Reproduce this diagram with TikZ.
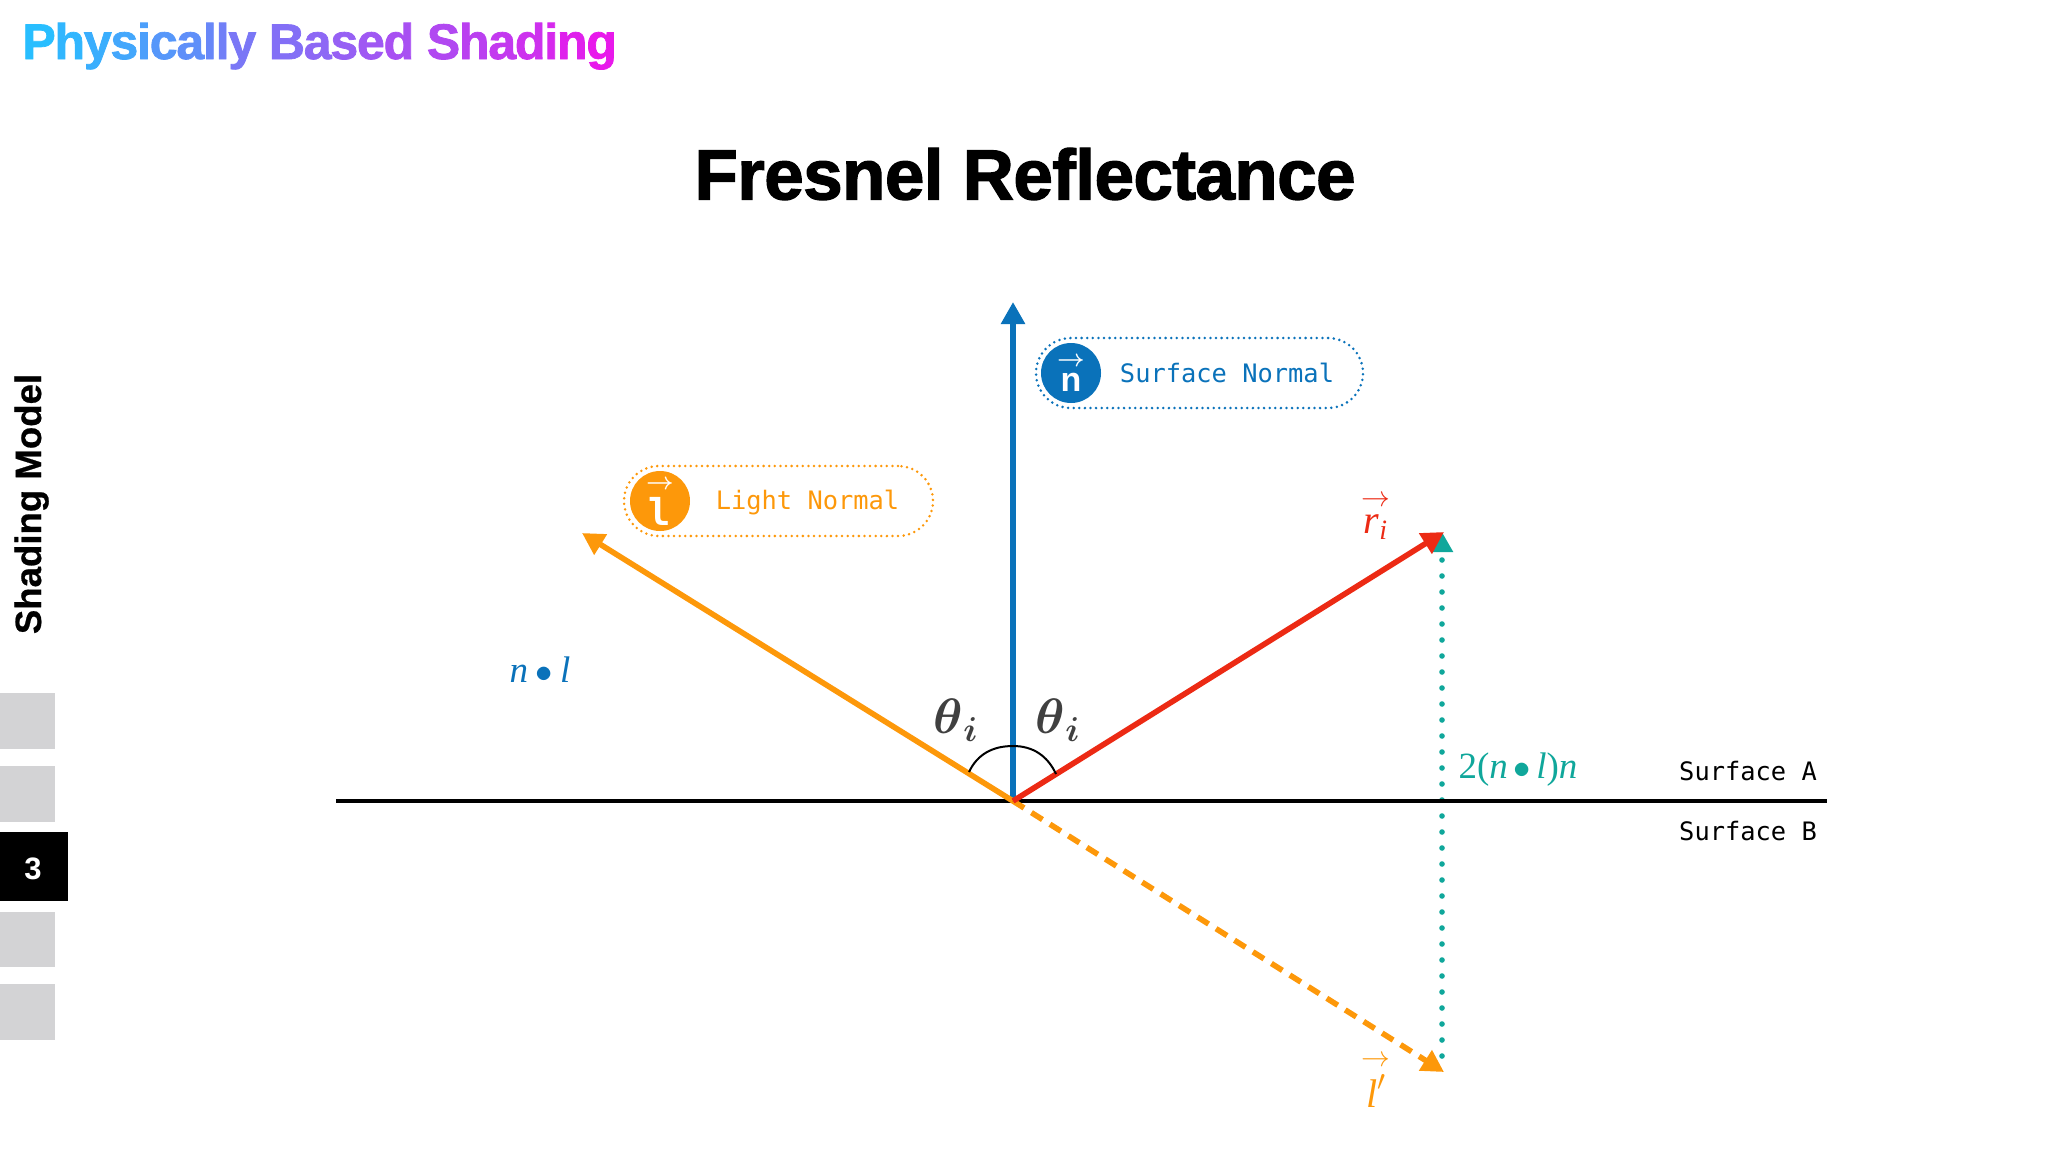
\documentclass[tikz,border=0pt]{standalone}
\usepackage{amsmath,amssymb}
\usepackage{xcolor}
\usepackage{fontspec}
\usepackage{tikz}
\usetikzlibrary{calc,arrows.meta}
\newfontfamily\headfont[FakeBold=1.5]{Liberation Sans Bold}
\newfontfamily\titlefont[LetterSpace=-0.8,FakeBold=1.8]{Liberation Sans Bold}
\newfontfamily\sidefont[FakeBold=0.6]{Liberation Sans Bold}
\newfontfamily\pagefont{Liberation Sans Bold}
\newfontfamily\codefont{DejaVu Sans Mono}
\newfontfamily\iconfont{DejaVu Sans Mono Bold}
\newfontfamily\labfont{Liberation Serif}
\definecolor{gradA}{HTML}{28BEFF}
\definecolor{gradB}{HTML}{E819EB}
\definecolor{slot}{HTML}{D3D3D5}
\definecolor{vecn}{HTML}{0A72BA}
\definecolor{vecl}{HTML}{FD980A}
\definecolor{vecr}{HTML}{EC2A14}
\definecolor{vecd}{HTML}{10A79B}
\definecolor{thetac}{HTML}{404040}
\definecolorseries{headser}{rgb}{last}{gradA}{gradB}
\resetcolorseries[21]{headser}
\newcommand{\gradword}[1]{\foreach \ch in {#1}{\textcolor{headser!!+}{\ch}\kern-0.6pt}}
\newcommand{\itl}[1]{\text{\labfont\itshape #1}}
\tikzset{
  vec/.style={line width=2.8pt, -{Triangle[length=11pt,width=11.5pt]}},
  base/.style={draw=black, line width=2.2pt},
  slotbox/.style={draw=none, fill=slot},
  pill/.style={line width=1.4pt, line cap=round, dash pattern=on 0pt off 2.8pt, rounded corners=17.5pt, minimum height=35pt, inner sep=0pt},
  icon/.style={circle, minimum size=30pt, inner sep=0pt, text=white},
  code/.style={font=\codefont\fontsize{12.7}{15}\selectfont, inner sep=0pt},
  lab/.style={font=\labfont\fontsize{18.5}{22}\selectfont, inner sep=0pt},
  labv/.style={font=\labfont\fontsize{20}{24}\selectfont, inner sep=0pt},
  ang/.style={text=thetac, font=\fontsize{25}{30}\selectfont, inner sep=0pt},
}
\begin{document}
\begin{tikzpicture}[x=0.5pt,y=-0.5pt]
  \useasboundingbox (0,0) rectangle (2048,1152);
  \node[anchor=base west, inner sep=0pt, font=\headfont\fontsize{25}{30}\selectfont] (head) at (22,59)
    {\gradword{P,h,y,s,i,c,a,l,l,y}\ \gradword{B,a,s,e,d}\ \gradword{S,h,a,d,i,n,g}};
  \node[inner sep=0pt, font=\titlefont\fontsize{35.5}{40}\selectfont] (title) at (1025,174) {Fresnel Reflectance};

  % side bar
  \node[anchor=base, rotate=90, inner sep=0pt, font=\sidefont\fontsize{18.3}{20}\selectfont] (side) at (41,504) {Shading Model};
  \path[slotbox] (0,693) rectangle (55,749);
  \path[slotbox] (0,766) rectangle (55,822);
  \path[fill=black] (0,832) rectangle (68,901);
  \path[slotbox] (0,912) rectangle (55,967);
  \path[slotbox] (0,984) rectangle (55,1040);
  \node[text=white, inner sep=0pt, font=\pagefont\fontsize{15.5}{18}\selectfont] (page) at (33,869) {3};

  \coordinate (O) at (1013,801);
  \coordinate (baseL) at (336,801);
  \coordinate (baseR) at (1827,801);
  \coordinate (nTip) at (1013,302);
  \coordinate (lTip) at (582,533);
  \coordinate (rTip) at (1444,532);
  \coordinate (lpTip) at (1444,1072);
  \coordinate (dBot) at (1442,1056);
  \coordinate (dTip) at (1442,532);
  \coordinate (arcL) at (969,772);
  \coordinate (arcT) at (1013,746);
  \coordinate (arcR) at (1056,774);

  \draw[vecd, line width=2.8pt, line cap=round, dash pattern=on 0pt off 8pt, -{Triangle[length=10pt,width=10.5pt]}] (dBot)--(dTip);
  \draw[base] (baseL)--(baseR);
  \draw[vec, vecn] (O)--(nTip);
  \draw[vec, vecl] (O)--(lTip);
  \draw[vec, vecl, dash pattern=on 6.5pt off 4.4pt] (O)--(lpTip);
  \draw[vec, vecr] (O)--(rTip);
  \draw[black, line width=1pt] (arcL) to[out=65,in=180] (arcT) to[out=0,in=115] (arcR);

  \node[ang] (thL) at (956,720) {$\boldsymbol{\theta}_{\boldsymbol{i}}$};
  \node[ang] (thR) at (1058,720) {$\boldsymbol{\theta}_{\boldsymbol{i}}$};

  % legend pills
  \node[pill, draw=vecn, minimum width=163.5pt] (pillN) at (1199.5,373) {};
  \node[icon, fill=vecn, font=\pagefont\fontsize{17}{18}\selectfont] (iconN) at (1071,373) {$\overset{\boldsymbol{\rightarrow}}{\text{\pagefont n}}$};
  \node[code, text=vecn] (txtN) at (1227,373) {Surface Normal};

  \node[pill, draw=vecl, minimum width=154.5pt] (pillL) at (778.5,501) {};
  \node[icon, fill=vecl, font=\iconfont\fontsize{18.5}{19}\selectfont] (iconL) at (660,501) {$\overset{\boldsymbol{\rightarrow}}{\text{\iconfont l}}$};
  \node[code, text=vecl] (txtL) at (807.5,502) {Light Normal};

  % labels
  \node[lab, text=vecn] (nl) at (540,670) {\textit{n}\hspace{.2em}$\bullet$\hspace{.2em}\textit{l}};
  \node[lab, text=vecd] (dlab) at (1518,770) {2(\textit{n}\hspace{.15em}$\bullet$\hspace{.15em}\textit{l})\textit{n}};
  \node[labv, text=vecr] (rlab) at (1376,516) {$\overset{\rightarrow}{\itl{r}_{\itl{i}}}$};
  \node[labv, text=vecl] (lplab) at (1376,1080) {$\overset{\rightarrow}{\itl{l}'}$};
  \node[code] (surfA) at (1748,771) {Surface A};
  \node[code] (surfB) at (1748,831) {Surface B};
\end{tikzpicture}
\end{document}
